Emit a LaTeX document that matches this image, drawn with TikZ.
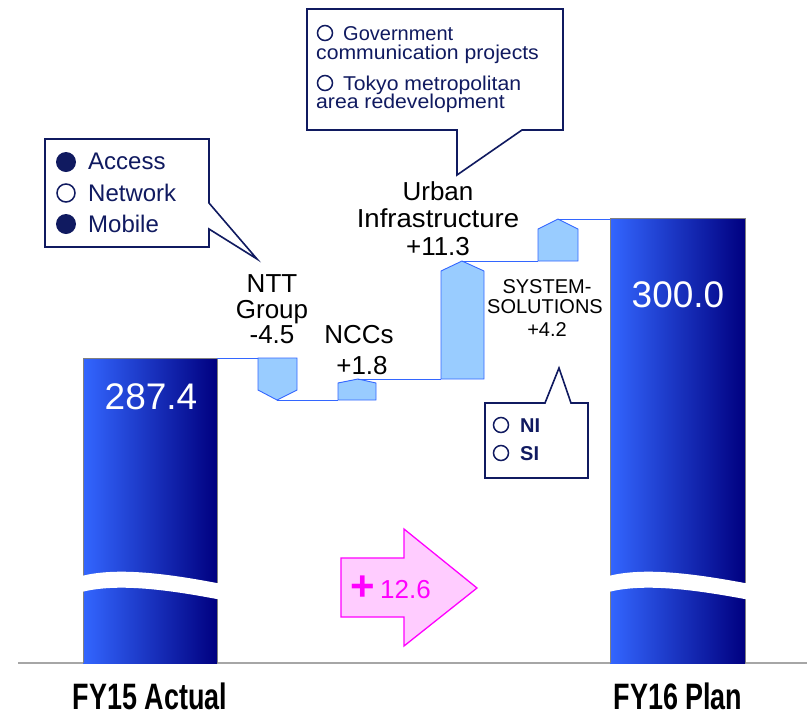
\documentclass[tikz,border=0pt]{standalone}
\usepackage{fontspec}
\setmainfont{Liberation Sans}
\usepackage{graphicx}
\definecolor{navy}{RGB}{16,26,96}
\definecolor{barl}{RGB}{51,102,255}
\definecolor{bard}{RGB}{0,0,128}
\definecolor{linec}{RGB}{51,102,255}
\definecolor{blkfill}{RGB}{153,204,255}
\definecolor{pinkf}{RGB}{255,204,255}
\definecolor{magen}{RGB}{255,0,255}
\begin{document}
\begin{tikzpicture}[x=1pt,y=-1pt,
  conn/.style={draw=linec, line width=0.9pt},
  blk/.style={draw=linec, fill=blkfill, line width=0.9pt},
  callout/.style={draw=navy, fill=white, line width=1.6pt, line join=miter},
  lbl/.style={font=\fontsize{26}{30}\selectfont, anchor=base, inner sep=0pt},
  sml/.style={font=\fontsize{20}{24}\selectfont, anchor=base, inner sep=0pt},
  ctxt/.style={font=\fontsize{24}{28}\selectfont, text=navy, anchor=base west, inner sep=0pt},
  gtxt/.style={font=\fontsize{20}{24}\selectfont, text=navy, anchor=base west, inner sep=0pt},
  btxt/.style={font=\bfseries\fontsize{20}{24}\selectfont, text=navy, anchor=base west, inner sep=0pt},
  valtxt/.style={font=\fontsize{37}{40}\selectfont, text=white, anchor=base, inner sep=0pt},
  fytxt/.style={font=\bfseries\fontsize{35}{38}\selectfont, anchor=base, inner sep=0pt},
  bul/.style={draw=navy, line width=1.5pt},
  bulf/.style={fill=navy}
]
\useasboundingbox (0,0) rectangle (807,716);

% baseline
\draw[gray!70, line width=1.3pt] (18,663) -- (807,663);

% left bar
\shade[left color=barl, right color=bard] (83,358) rectangle (217,663);
\draw[gray, line width=0.7pt] (83,663) -- (83,358) -- (217,358) -- (217,663);
% right bar
\shade[left color=barl, right color=bard] (610,218) rectangle (745,663);
\draw[gray, line width=0.7pt] (610,663) -- (610,218) -- (745,218) -- (745,663);

% wave breaks
\fill[white] (78,577) .. controls (115,566) and (170,574) .. (222,584)
  -- (222,600) .. controls (170,590) and (115,582) .. (78,593) -- cycle;
\fill[white] (605,577) .. controls (642,566) and (697,574) .. (750,584)
  -- (750,600) .. controls (697,590) and (642,582) .. (605,593) -- cycle;

% values
\node[valtxt] (v1) at (151,409) {287.4};
\node[valtxt] (v2) at (678,307) {300.0};

% waterfall connectors and blocks
\draw[conn] (217,358) -- (258,358);
\filldraw[blk] (258,358) -- (297,358) -- (297,390) -- (277,400) -- (258,390) -- cycle;
\draw[conn] (277,400) -- (338,400);
\filldraw[blk] (338,400) -- (376,400) -- (376,383) -- (358,379) -- (338,383) -- cycle;
\draw[conn] (358,379) -- (441,379);
\filldraw[blk] (441,379) -- (484,379) -- (484,271) -- (462,261) -- (441,271) -- cycle;
\draw[conn] (462,261) -- (538,261);
\filldraw[blk] (538,261) -- (578,261) -- (578,229) -- (558,219) -- (538,229) -- cycle;
\draw[conn] (558,219) -- (610,219);

% labels
\node[lbl] (n1) at (272,292) {NTT};
\node[lbl] (n2) at (272,318) {Group};
\node[lbl] (n3) at (272,343) {-4.5};
\node[lbl] (c1) at (359,343) {NCCs};
\node[lbl] (c2) at (362,374) {+1.8};
\node[lbl] (u1) at (438,200) {Urban};
\node[lbl] (u2) at (438,227) {\scalebox{1.06}[1]{Infrastructure}};
\node[lbl] (u3) at (438,255) {+11.3};
\node[sml] (s1) at (547,293) {SYSTEM-};
\node[sml] (s2) at (545,313) {SOLUTIONS};
\node[sml] (s3) at (547,336) {+4.2};

% callout 1
\draw[callout] (45,139) -- (209,139) -- (209,203) -- (257,259) -- (209,229) -- (209,247) -- (45,247) -- cycle;
\fill[bulf] (66,162) circle (10);
\draw[bul] (66,193) circle (9);
\fill[bulf] (66,224) circle (10);
\node[ctxt] (a1) at (88,169) {Access};
\node[ctxt] (a2) at (88,201) {Network};
\node[ctxt] (a3) at (88,232) {Mobile};

% callout 2
\draw[callout] (307,9) -- (563,9) -- (563,130) -- (522,130) -- (457,175) -- (457,130) -- (307,130) -- cycle;
\draw[bul] (325,33) circle (7.5);
\draw[bul] (325,83) circle (7.5);
\node[gtxt] (g1) at (343,40) {Government};
\node[gtxt] (g2) at (316,59) {\scalebox{1.06}[1]{communication projects}};
\node[gtxt] (g3) at (343,90) {\scalebox{1.06}[1]{Tokyo metropolitan}};
\node[gtxt] (g4) at (316,108) {\scalebox{1.06}[1]{area redevelopment}};

% callout 3
\draw[callout] (485,403) -- (545,403) -- (559,368) -- (571,403) -- (588,403) -- (588,478) -- (485,478) -- cycle;
\draw[bul] (501,425) circle (7.5);
\draw[bul] (501,453) circle (7.5);
\node[btxt] (b1) at (520,432) {NI};
\node[btxt] (b2) at (520,460) {SI};

% arrow
\filldraw[draw=magen, fill=pinkf, line width=1.3pt, line join=miter]
  (341,558) -- (404,558) -- (404,529) -- (477,588) -- (404,646) -- (404,617) -- (341,617) -- cycle;
\node[font=\bfseries\fontsize{42}{44}\selectfont, text=magen, inner sep=0pt] (p1) at (363,588) {+};
\node[font=\fontsize{26}{30}\selectfont, text=magen, anchor=base west, inner sep=0pt] (p2) at (380,598) {12.6};

% axis labels
\node[fytxt] (f1) at (150,709) {\scalebox{0.77}[1.05]{FY15 Actual}};
\node[fytxt] (f2) at (678,709) {\scalebox{0.77}[1.05]{FY16 Plan}};
\end{tikzpicture}
\end{document}
